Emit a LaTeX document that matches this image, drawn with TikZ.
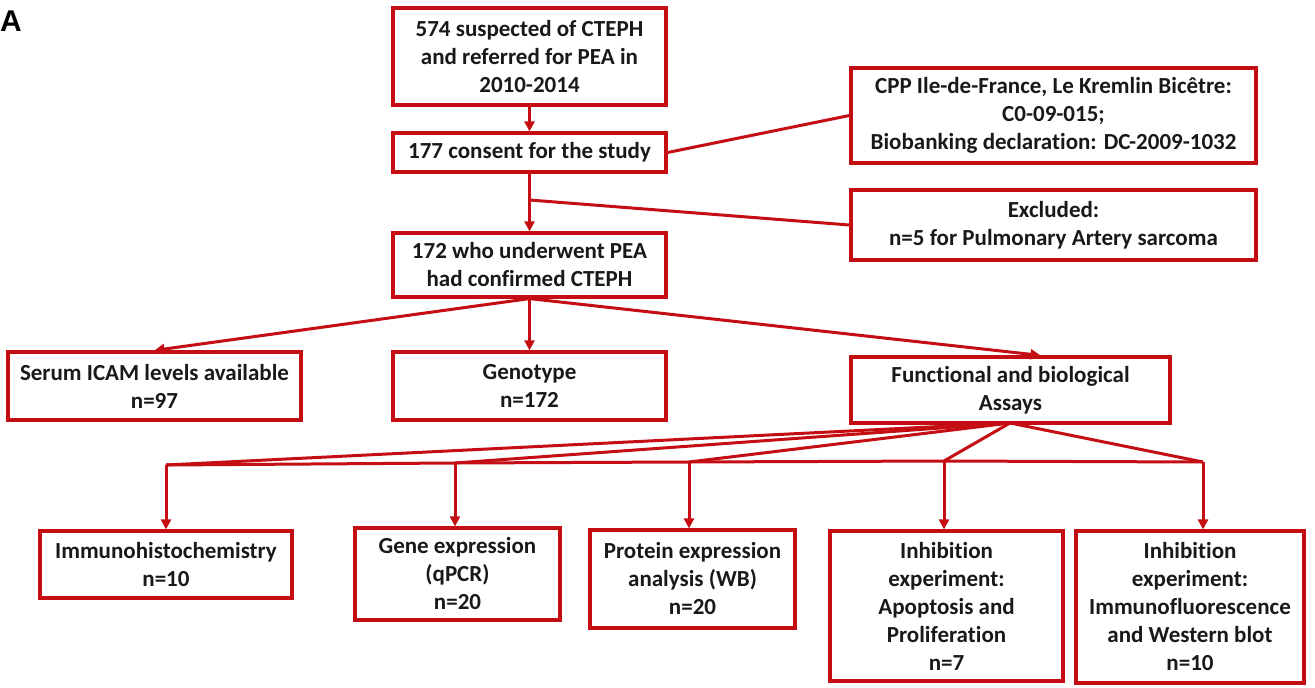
\documentclass[tikz,border=0pt]{standalone}
\usepackage{fontspec}
\setmainfont{Carlito}[RawFeature={-liga;-calt;-clig}]
\newfontfamily\labelfont{Liberation Sans}
\usetikzlibrary{arrows.meta}
\definecolor{boxred}{RGB}{196,14,20}
\definecolor{txt}{RGB}{25,25,25}
\tikzset{
  box/.style={draw=boxred, line width=3.2pt, fill=white, align=center, inner sep=0pt,
    font=\fontsize{23}{28}\selectfont\bfseries, text=txt},
  conn/.style={draw=boxred, line width=3pt},
  arr/.style={conn, -{Triangle[length=10pt,width=10pt]}}
}
\begin{document}
\begin{tikzpicture}[x=1pt,y=-1pt]
\useasboundingbox (0,0) rectangle (1315,688);
\node[font=\labelfont\bfseries\fontsize{30}{32}\selectfont, anchor=north west, inner sep=0pt] (lab) at (0,11) {A};

\node[box, minimum width=273, minimum height=97] (b1) at (529.5,56.5) {574 suspected of CTEPH\\and referred for PEA in\\2010-2014};
\node[box, minimum width=273, minimum height=39] (b2) at (529.5,152.5) {177 consent for the study};
\node[box, minimum width=405, minimum height=95] (cpp) at (1053.5,115.5) {CPP Ile-de-France, Le Kremlin Bicêtre:\\C0-09-015;\\Biobanking declaration: DC-2009-1032};
\node[box, minimum width=405, minimum height=70] (exc) at (1053.5,225) {Excluded:\\n=5 for Pulmonary Artery sarcoma};
\node[box, minimum width=273, minimum height=64] (b3) at (529.5,265) {172 who underwent PEA\\had confirmed CTEPH};

\node[box, minimum width=293, minimum height=68] (serum) at (154.5,386) {Serum ICAM levels available\\n=97};
\node[box, minimum width=273, minimum height=68] (geno) at (529.5,386) {Genotype\\n=172};
\node[box, minimum width=319, minimum height=66] (assay) at (1010.5,390) {Functional and biological\\Assays};

\node[box, minimum width=252, minimum height=67] (immuno) at (166,564.5) {Immunohistochemistry\\n=10};
\node[box, minimum width=205, minimum height=92] (gene) at (457.5,574) {Gene expression\\(qPCR)\\n=20};
\node[box, minimum width=205, minimum height=98] (prot) at (692.5,579) {Protein expression\\analysis (WB)\\n=20};
\node[box, minimum width=233, minimum height=150] (inh1) at (946.5,606) {Inhibition\\experiment:\\Apoptosis and\\Proliferation\\n=7};
\node[box, minimum width=228, minimum height=152] (inh2) at (1190,607) {Inhibition\\experiment:\\Immunofluorescence\\and Western blot\\n=10};

% top part
\draw[arr] (b1.south) -- (b2.north);
\draw[conn] (b2.east) -- (cpp.west);
\draw[arr] (b2.south) -- (b3.north);
\coordinate (split) at (529.5,200);
\draw[conn] (split) -- (exc.west);

% second level
\draw[arr] (b3.south) -- (serum.north);
\draw[arr] (b3.south) -- (geno.north);
\draw[arr] (b3.south) -- ([xshift=30pt]assay.north);

% fan from assays
\coordinate (f0) at (1010,423);
\coordinate (h1) at (166,465);
\coordinate (h2) at (455,463);
\coordinate (h3) at (689,462);
\coordinate (h4) at (944,461);
\coordinate (h5) at (1203,462);
\draw[conn] (f0) -- (h1);
\draw[conn] (f0) -- (h2);
\draw[conn] (f0) -- (h3);
\draw[conn] (f0) -- (h4);
\draw[conn] (f0) -- (h5);
\draw[conn] (h1) -- (h2) -- (h3) -- (h4) -- (h5);
\draw[arr] (h1) -- (h1 |- immuno.north);
\draw[arr] (h2) -- (h2 |- gene.north);
\draw[arr] (h3) -- (h3 |- prot.north);
\draw[arr] (h4) -- (h4 |- inh1.north);
\draw[arr] (h5) -- (h5 |- inh2.north);
\end{tikzpicture}
\end{document}
